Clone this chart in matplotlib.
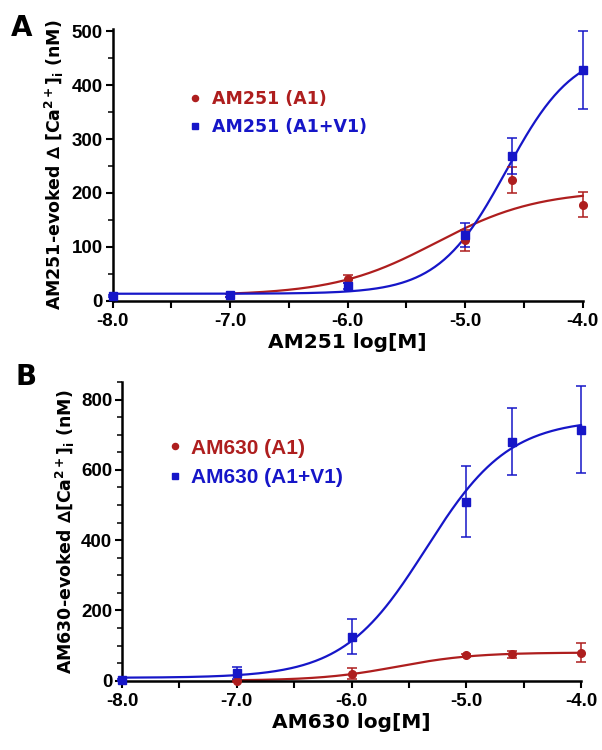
import numpy as np
import matplotlib
matplotlib.use("Agg")
import matplotlib.pyplot as plt

RED = '#ae1e1e'
BLUE = '#1616c8'

# panel A data (log[M], nM, SEM)
a1_x = [-7, -6, -5, -4.6, -4]
a1_y = [10, 40, 112, 224, 178]
a1_err = [3, 8, 20, 25, 23]
av_x = [-8, -7, -6, -5, -4.6, -4]
av_y = [9, 10, 27, 122, 268, 428]
av_err = [2, 3, 5, 22, 33, 72]

# panel B data
b1_x = [-7, -6, -5, -4.6, -4]
b1_y = [0, 20, 72, 75, 80]
b1_err = [3, 15, 4, 10, 28]
bv_x = [-8, -7, -6, -5, -4.6, -4]
bv_y = [2, 22, 125, 510, 680, 715]
bv_err = [3, 18, 50, 100, 95, 125]

# fitted curves: bottom, top, logEC50, hill slope, x start
fit_a1 = [10, 205, -5.25, 1.0, -7]
fit_av = [13, 470, -4.65, 1.5, -8]
fit_b1 = [0, 80, -5.6, 1.3, -7]
fit_bv = [8, 745, -5.35, 1.2, -8]

plt.rcParams['mathtext.default'] = 'bf'


def hill(p):
    xs = np.linspace(p[4], -4, 300)
    return xs, p[0] + (p[1] - p[0]) / (1 + 10 ** ((p[2] - xs) * p[3]))


def draw(ax, x, y, err, fit, color, marker, ms, label):
    xs, ys = hill(fit)
    ax.plot(xs, ys, color=color, lw=1.6, clip_on=False, zorder=2)
    ax.errorbar(x, y, yerr=err, fmt='none', ecolor=color, elinewidth=1.1,
                capsize=3.5, capthick=1.1, clip_on=False, zorder=3)
    ax.plot(x, y, marker, color=color, ms=ms, clip_on=False, zorder=4,
            linestyle='none', label=label)


def style(ax, ylim, major, minor):
    ax.set_xlim(-8, -4)
    ax.set_ylim(*ylim)
    for s in ['top', 'right']:
        ax.spines[s].set_visible(False)
    for s in ['left', 'bottom']:
        ax.spines[s].set_linewidth(1.8)
    ax.set_xticks(np.arange(-8, -3.9, 0.5))
    ax.set_xticklabels(['%.1f' % v if v == int(v) else '' for v in np.arange(-8, -3.9, 0.5)])
    ax.set_yticks(np.arange(0, ylim[1] + 1, major))
    ax.set_yticks(np.arange(0, ylim[1] + 1, minor), minor=True)
    ax.tick_params(which='major', length=5, width=1.5, labelsize=13.5, pad=2)
    ax.tick_params(axis='x', which='major', pad=4)
    ax.tick_params(which='minor', length=3.5, width=1.1)
    for t in ax.get_xticklabels() + ax.get_yticklabels():
        t.set_fontfamily('Liberation Sans')
        t.set_fontweight('bold')


fig = plt.figure(figsize=(6.02, 7.5), dpi=100)

# ---- panel A
ax = fig.add_axes([0.187, 0.599, 0.781, 0.363])
draw(ax, a1_x, a1_y, a1_err, fit_a1, RED, 'o', 5.5, 'AM251 (A1)')
draw(ax, av_x, av_y, av_err, fit_av, BLUE, 's', 6, 'AM251 (A1+V1)')
style(ax, (0, 505), 100, 50)
ax.set_xlabel('AM251 log[M]', fontsize=14.5, fontweight='bold', labelpad=2)
ax.set_ylabel('AM251-evoked ∆ [Ca$^{2+}$]$_{i}$ (nM)', fontsize=12.5,
              fontweight='bold', labelpad=4)
ax.legend(loc='center left', bbox_to_anchor=(0.13, 0.69), frameon=False,
          handlelength=0.6, handletextpad=0.7, labelspacing=0.6,
          labelcolor='markerfacecolor', markerscale=0.8,
          prop={'family': 'DejaVu Sans', 'weight': 'bold', 'size': 12.5})
fig.text(0.018, 0.962, 'A', fontsize=20, fontweight='heavy', va='center')

# ---- panel B
ax = fig.add_axes([0.2027, 0.0925, 0.7625, 0.398])
draw(ax, b1_x, b1_y, b1_err, fit_b1, RED, 'o', 5.5, 'AM630 (A1)')
draw(ax, bv_x, bv_y, bv_err, fit_bv, BLUE, 's', 6, 'AM630 (A1+V1)')
style(ax, (0, 850), 200, 50)
ax.set_xlabel('AM630 log[M]', fontsize=14.5, fontweight='bold', labelpad=2)
ax.set_ylabel('AM630-evoked ∆[Ca$^{2+}$]$_{i}$ (nM)', fontsize=12.5,
              fontweight='bold', labelpad=3)
ax.legend(loc='center left', bbox_to_anchor=(0.06, 0.73), frameon=False,
          handlelength=0.6, handletextpad=0.5, labelspacing=0.5,
          labelcolor='markerfacecolor', markerscale=0.8,
          prop={'family': 'Liberation Sans', 'weight': 'bold', 'size': 15})
fig.text(0.025, 0.497, 'B', fontsize=20, fontweight='heavy', va='center')

fig.savefig('out.png', dpi=100)
